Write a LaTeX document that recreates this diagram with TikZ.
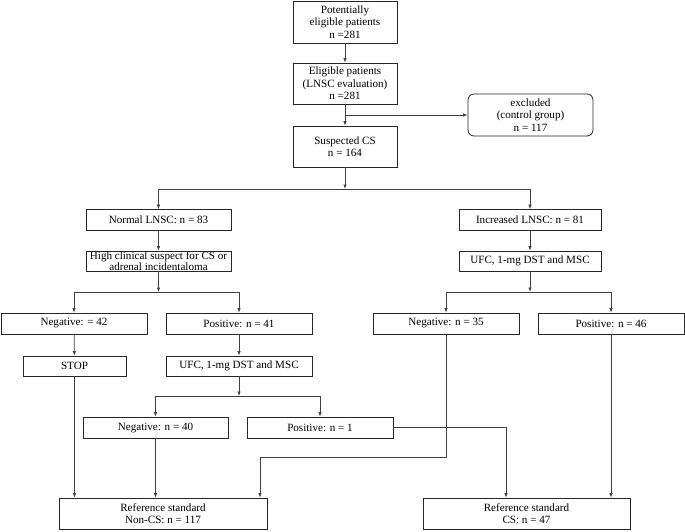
\documentclass[tikz,border=0pt]{standalone}
\usepackage{fontspec}
\setmainfont{Liberation Serif}
\usetikzlibrary{arrows.meta}

\begin{document}
\begin{tikzpicture}[x=1pt,y=-1pt,
        box/.style={draw=black!85,line width=0.8pt,align=center,inner sep=1pt,font=\rmfamily\fontsize{11.1}{12.5}\selectfont},
        arr/.style={draw=black!75,line width=0.75pt,-{Latex[length=4.5pt,width=3.5pt]}}]
    \useasboundingbox (0,0) rectangle (685,531);
    % screening
    \node[box,minimum width=104,minimum height=42] (pot) at (345,22) {Potentially\\eligible patients\\n =281};
    \node[box,minimum width=104,minimum height=41] (elig) at (345,83.5) {Eligible patients\\(LNSC evaluation)\\n =281};
    \node[box,minimum width=104,minimum height=41] (susp) at (345,146.5) {Suspected CS\\n = 164};
    \node[box,rounded corners=6pt,minimum width=125,minimum height=42] (excl) at (530.5,115) {excluded\\(control group)\\n = 117};
    % LNSC result
    \node[box,minimum width=145,minimum height=21] (norm) at (158.5,220) {Normal LNSC: n = 83};
    \node[box,minimum width=142,minimum height=21] (incr) at (530,220) {Increased LNSC: n = 81};
    \node[box,minimum width=145,minimum height=20,font=\rmfamily\fontsize{11.1}{10.8}\selectfont,inner sep=0pt] (high) at (158.5,261) {High clinical suspect for CS or\\adrenal incidentaloma};
    \node[box,minimum width=142,minimum height=20] (ufcR) at (530,261) {UFC, 1-mg DST and MSC};
    % second level
    \node[box,minimum width=146,minimum height=21] (negA) at (74,323.5) {Negative: = 42};
    \node[box,minimum width=146,minimum height=21] (posA) at (239,323.5) {Positive: n = 41};
    \node[box,minimum width=146,minimum height=21] (negB) at (446,323.5) {Negative: n = 35};
    \node[box,minimum width=146,minimum height=21] (posB) at (611,323.5) {Positive: n = 46};
    \node[box,minimum width=103,minimum height=20] (stop) at (74.5,366) {STOP};
    \node[box,minimum width=146,minimum height=20] (ufcM) at (239,366) {UFC, 1-mg DST and MSC};
    \node[box,minimum width=145,minimum height=21] (negC) at (155.5,427.5) {Negative: n = 40};
    \node[box,minimum width=146,minimum height=21] (posC) at (320,427.5) {Positive: n = 1};
    % reference standard
    \node[box,minimum width=208,minimum height=31] (noncs) at (163,513.5) {Reference standard\\Non-CS: n = 117};
    \node[box,minimum width=207,minimum height=31] (cs) at (526.5,513.5) {Reference standard\\CS: n = 47};
    % junctions
    \coordinate (xj) at (345,115);
    \coordinate (s1) at (345,189);
    \coordinate (s2L) at (158.5,292);
    \coordinate (s2R) at (530,292);
    \coordinate (s3) at (239,396);
    \coordinate (k1) at (260,457);
    \coordinate (k2) at (506,427.5);
    % connectors
    \draw[arr] (pot) -- (elig);
    \draw[arr] (elig) -- (susp);
    \draw[arr] (xj) -- (excl.west);
    \draw[arr] (susp) -- (s1);
    \draw[arr] (s1) -| (norm);
    \draw[arr] (s1) -| (incr);
    \draw[arr] (norm) -- (high);
    \draw[arr] (incr) -- (ufcR);
    \draw[arr] (high) -- (s2L);
    \draw[arr] (s2L) -| (negA);
    \draw[arr] (s2L) -| (posA);
    \draw[arr] (ufcR) -- (s2R);
    \draw[arr] (s2R) -| (negB);
    \draw[arr] (s2R) -| (posB);
    \draw[arr] (negA) -- (stop);
    \draw[arr] (posA) -- (ufcM);
    \draw[arr] (ufcM) -- (s3);
    \draw[arr] (s3) -| (negC);
    \draw[arr] (s3) -| (posC);
    \draw[arr] (stop) -- (stop |- noncs.north);
    \draw[arr] (negC) -- (negC |- noncs.north);
    \draw[arr] (negB) |- (k1) -- (k1 |- noncs.north);
    \draw[arr] (posC) -- (k2) -- (k2 |- cs.north);
    \draw[arr] (posB) -- (posB |- cs.north);
\end{tikzpicture}
\end{document}
